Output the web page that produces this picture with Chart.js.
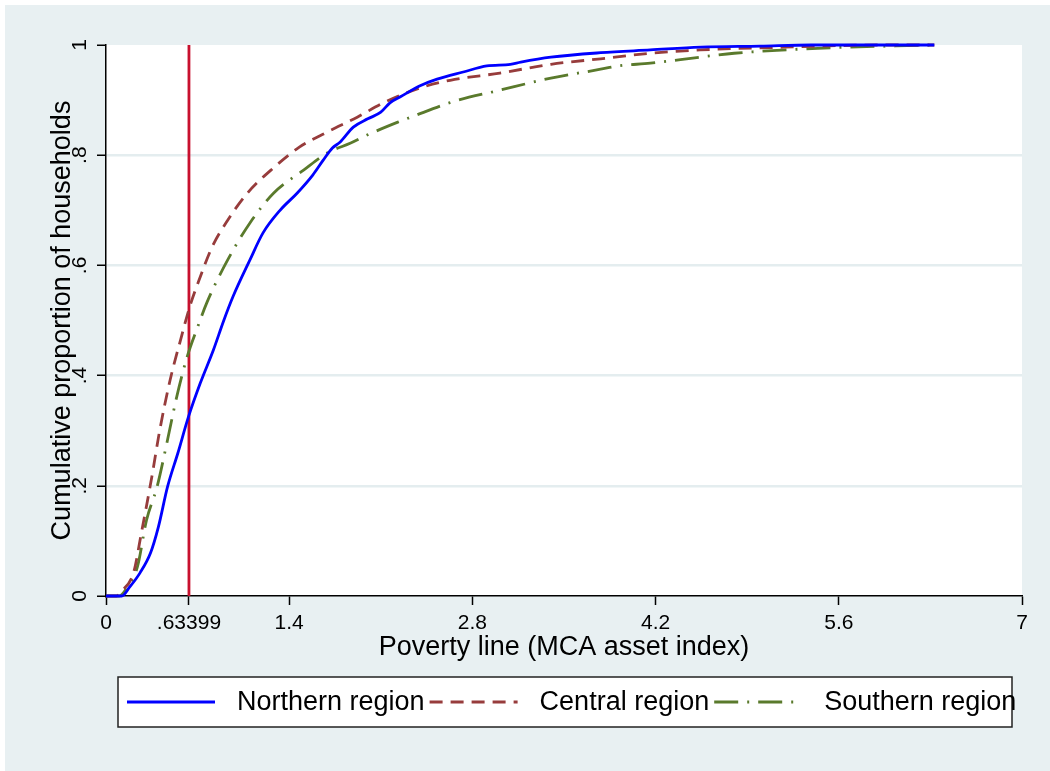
<!DOCTYPE html>
<html>
<head>
<meta charset="utf-8">
<script src="https://cdn.jsdelivr.net/npm/chart.js@4/dist/chart.umd.min.js"></script>
<style>
  html, body { margin: 0; padding: 0; background: #fff; }
  #wrap { position: absolute; left: 5px; top: 5px; width: 1045px; height: 766px; }
</style>
</head>
<body>
<div id="wrap"><canvas id="cdfChart" width="1045" height="766"></canvas></div>
<script>
// cumulative distribution of the asset index, by region
var northX = [0, 0.12, 0.18, 0.26, 0.34, 0.40, 0.47, 0.55, 0.63, 0.72, 0.82, 0.90, 0.97, 1.10, 1.20, 1.33, 1.46, 1.58, 1.66, 1.73, 1.79, 1.89, 2.00, 2.10, 2.17, 2.25, 2.40, 2.53, 2.73, 2.91, 3.09, 3.17, 3.40, 3.78, 4.16, 4.54, 5.00, 5.39, 6.33];
var northY = [0, 0, 0.016, 0.042, 0.078, 0.125, 0.198, 0.26, 0.325, 0.386, 0.446, 0.50, 0.543, 0.61, 0.659, 0.70, 0.731, 0.764, 0.791, 0.813, 0.824, 0.851, 0.866, 0.878, 0.895, 0.906, 0.926, 0.938, 0.951, 0.962, 0.965, 0.969, 0.978, 0.986, 0.991, 0.996, 0.998, 1.0, 1.0];

var centralX = [0, 0.08, 0.11, 0.21, 0.27, 0.35, 0.41, 0.49, 0.57, 0.64, 0.72, 0.81, 0.93, 1.08, 1.28, 1.48, 1.69, 1.92, 2.12, 2.40, 2.63, 3.01, 3.40, 3.78, 4.16, 4.54, 5.18, 5.94, 6.33];
var centralY = [0, 0, 0.007, 0.042, 0.114, 0.216, 0.30, 0.392, 0.465, 0.525, 0.579, 0.633, 0.682, 0.731, 0.777, 0.815, 0.842, 0.869, 0.895, 0.922, 0.936, 0.949, 0.965, 0.975, 0.985, 0.991, 0.996, 1.0, 1.0];

var southX = [0, 0.10, 0.16, 0.24, 0.31, 0.39, 0.47, 0.54, 0.62, 0.70, 0.77, 0.93, 1.10, 1.28, 1.51, 1.69, 1.87, 2.00, 2.23, 2.33, 2.65, 3.01, 3.40, 3.78, 3.91, 4.16, 4.54, 4.80, 5.44, 6.33];
var southY = [0, 0, 0.015, 0.053, 0.138, 0.198, 0.283, 0.361, 0.434, 0.488, 0.532, 0.61, 0.677, 0.731, 0.773, 0.804, 0.822, 0.837, 0.86, 0.869, 0.897, 0.918, 0.94, 0.956, 0.962, 0.967, 0.978, 0.985, 0.994, 1.0];

var povertyLine = 0.63399;

var xTickValues = [0, 0.63399, 1.4, 2.8, 4.2, 5.6, 7];
var xTickLabels = ['0', '.63399', '1.4', '2.8', '4.2', '5.6', '7'];
var yTickValues = [0, 0.2, 0.4, 0.6, 0.8, 1];
var yTickLabels = ['0', '.2', '.4', '.6', '.8', '1'];

var regionNames = ['Northern region', 'Central region', 'Southern region'];

var FONT = "'Liberation Sans', Arial, sans-serif";
var BG = '#e8f0f2';
var GRID = '#e4edef';
var LINE_W = 2.8;

function toPoints(xs, ys) {
    return xs.map(function (x, i) { return { x: x, y: ys[i] }; });
}

// paints the outer background and the white plot region
var backgroundPlugin = {
    id: 'stataBackground',
    beforeDraw: function (chart) {
        var ctx = chart.ctx, a = chart.chartArea;
        ctx.save();
        ctx.fillStyle = BG;
        ctx.fillRect(0, 0, chart.width, chart.height);
        ctx.fillStyle = '#fff';
        ctx.fillRect(a.left, a.top, a.right - a.left, a.bottom - a.top);
        ctx.restore();
    }
};

// boxed legend under the x axis title, one row
var boxLegendPlugin = {
    id: 'boxLegend',
    afterDraw: function (chart) {
        var ctx = chart.ctx;
        var box = { left: 113, top: 672, right: 1007, bottom: 722 };
        var midY = (box.top + box.bottom) / 2;
        ctx.save();
        ctx.fillStyle = '#fff';
        ctx.fillRect(box.left, box.top, box.right - box.left, box.bottom - box.top);
        ctx.strokeStyle = '#222';
        ctx.lineWidth = 1.5;
        ctx.strokeRect(box.left, box.top, box.right - box.left, box.bottom - box.top);

        ctx.font = '27px ' + FONT;
        ctx.textBaseline = 'middle';
        ctx.textAlign = 'left';
        var x = 122;
        for (var i = 0; i < regionNames.length; i++) {
            var ds = chart.data.datasets[i];
            ctx.strokeStyle = ds.borderColor;
            ctx.lineWidth = 3;
            ctx.setLineDash(ds.borderDash || []);
            ctx.beginPath();
            ctx.moveTo(x, midY);
            ctx.lineTo(x + 88, midY);
            ctx.stroke();
            ctx.setLineDash([]);
            x += 88 + 22;
            ctx.fillStyle = '#000';
            ctx.fillText(regionNames[i], x, midY + 1);
            x += ctx.measureText(regionNames[i]).width + 5;
        }
        ctx.restore();
    }
};

var ctx = document.getElementById('cdfChart').getContext('2d');
var chart = new Chart(ctx, {
    type: 'scatter',
    data: {
        datasets: [
            {
                label: regionNames[0],
                data: toPoints(northX, northY),
                borderColor: '#0000ff',
                borderWidth: LINE_W
            },
            {
                label: regionNames[1],
                data: toPoints(centralX, centralY),
                borderColor: '#973c3c',
                borderWidth: LINE_W,
                borderDash: [13, 8]
            },
            {
                label: regionNames[2],
                data: toPoints(southX, southY),
                borderColor: '#5a7a2c',
                borderWidth: LINE_W,
                borderDash: [24, 9, 2, 9]
            },
            {
                label: 'poverty line',
                data: [{ x: povertyLine, y: 0 }, { x: povertyLine, y: 1 }],
                borderColor: '#c8102e',
                borderWidth: LINE_W,
                cubicInterpolationMode: 'default'
            }
        ]
    },
    options: {
        responsive: false,
        animation: false,
        showLine: true,
        clip: false,
        layout: { padding: { top: 40, right: 28, left: 0, bottom: 0 } },
        elements: {
            point: { radius: 0, hoverRadius: 0 },
            line: { cubicInterpolationMode: 'monotone', fill: false }
        },
        plugins: {
            legend: { display: false },
            tooltip: { enabled: false }
        },
        scales: {
            x: {
                type: 'linear',
                min: 0,
                max: 7,
                afterBuildTicks: function (scale) {
                    scale.ticks = xTickValues.map(function (v) { return { value: v }; });
                },
                afterFit: function (scale) { scale.height = 175; },
                ticks: {
                    autoSkip: false,
                    maxRotation: 0,
                    padding: 6,
                    color: '#000',
                    font: { family: FONT, size: 21 },
                    callback: function (value, index) { return xTickLabels[index]; }
                },
                grid: {
                    drawOnChartArea: false,
                    tickLength: 9,
                    tickColor: '#000',
                    tickWidth: 1.5
                },
                border: { color: '#000', width: 1.5 },
                title: {
                    display: true,
                    text: 'Poverty line (MCA asset index)',
                    color: '#000',
                    font: { family: FONT, size: 27 },
                    padding: { top: 0, bottom: 107 }
                }
            },
            y: {
                type: 'linear',
                min: 0,
                max: 1,
                afterBuildTicks: function (scale) {
                    scale.ticks = yTickValues.map(function (v) { return { value: v }; });
                },
                afterFit: function (scale) { scale.width = 101; },
                ticks: {
                    minRotation: 90,
                    maxRotation: 90,
                    crossAlign: 'center',
                    padding: 8,
                    color: '#000',
                    font: { family: FONT, size: 21 },
                    callback: function (value, index) { return yTickLabels[index]; }
                },
                grid: {
                    color: function (c) {
                        return (c.tick && c.tick.value > 0 && c.tick.value < 1) ? GRID : 'rgba(0,0,0,0)';
                    },
                    lineWidth: 2.5,
                    tickLength: 9,
                    tickColor: '#000',
                    tickWidth: 1.5
                },
                border: { color: '#000', width: 1.5 },
                title: {
                    display: true,
                    text: 'Cumulative proportion of households',
                    color: '#000',
                    font: { family: FONT, size: 27 },
                    padding: { top: 41, bottom: 0 }
                }
            }
        }
    },
    plugins: [backgroundPlugin, boxLegendPlugin]
});
</script>
</body>
</html>
